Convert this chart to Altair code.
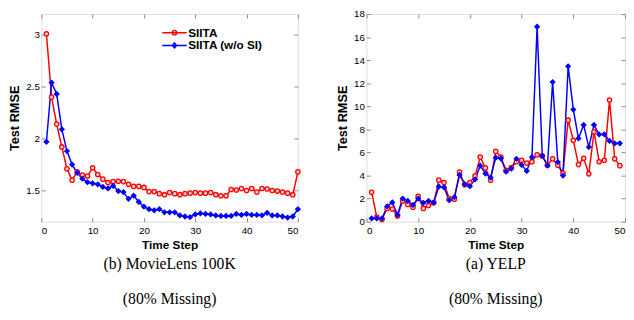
import altair as alt
import pandas as pd

series_names = ["SIITA", "SIITA (w/o SI)"]
series_colors = ["#ff0000", "#0000ff"]

ml_steps = list(range(1, 51))
ml_siita = [3.01, 2.40, 2.14, 1.92, 1.71, 1.60, 1.68, 1.65, 1.64, 1.72,
            1.655, 1.61, 1.577, 1.586, 1.59, 1.586, 1.56, 1.54, 1.54, 1.53,
            1.49, 1.49, 1.47, 1.46, 1.48, 1.47, 1.46, 1.47, 1.475, 1.48,
            1.475, 1.475, 1.48, 1.46, 1.45, 1.45, 1.51, 1.505, 1.52, 1.50,
            1.52, 1.485, 1.52, 1.515, 1.50, 1.495, 1.485, 1.475, 1.46, 1.68]
ml_nosi = [1.97, 2.54, 2.43, 2.09, 1.88, 1.75, 1.67, 1.614, 1.58, 1.57,
           1.56, 1.535, 1.52, 1.546, 1.495, 1.485, 1.42, 1.45, 1.39, 1.345,
           1.32, 1.31, 1.32, 1.29, 1.29, 1.29, 1.26, 1.25, 1.245, 1.27,
           1.28, 1.275, 1.27, 1.26, 1.255, 1.255, 1.255, 1.275, 1.265, 1.275,
           1.265, 1.265, 1.262, 1.285, 1.26, 1.26, 1.25, 1.24, 1.25, 1.32]

yelp_steps = list(range(1, 50))
yelp_siita = [2.55, 0.4, 0.2, 1.15, 1.1, 0.5, 1.8, 1.5, 1.25, 2.2,
              1.15, 1.4, 1.65, 3.6, 3.4, 2.0, 1.95, 4.3, 3.2, 3.4,
              3.97, 5.6, 4.67, 3.6, 6.1, 5.6, 4.45, 4.7, 5.2, 5.33,
              5.08, 5.2, 5.8, 5.7, 4.9, 5.45, 4.9, 4.2, 8.8, 7.05,
              4.95, 5.5, 4.15, 7.8, 5.2, 5.33, 10.55, 5.45, 4.86]
yelp_nosi = [0.28, 0.28, 0.28, 1.33, 1.67, 0.6, 2.0, 1.8, 1.45, 2.0,
             1.64, 1.8, 1.65, 3.05, 2.97, 1.86, 2.13, 4.05, 3.25, 3.08,
             3.67, 4.86, 4.17, 3.83, 5.55, 5.47, 4.33, 4.6, 5.45, 4.92,
             4.4, 5.6, 16.9, 5.7, 4.86, 12.1, 5.17, 4.0, 13.47, 9.72,
             7.22, 8.39, 6.47, 8.39, 7.56, 7.58, 7.0, 6.78, 6.8]

ml_ticks_y = [1.5, 2, 2.5, 3]
yelp_ticks_y = list(range(0, 19, 2))
x_ticks = [0, 10, 20, 30, 40, 50]


def frame(steps, a, b):
    return pd.concat([
        pd.DataFrame({"step": steps, "rmse": a, "series": series_names[0]}),
        pd.DataFrame({"step": steps, "rmse": b, "series": series_names[1]}),
    ])


SANS = "Liberation Sans"
SERIF = "Liberation Serif"

red_path = "M-2.5,0H2.5M0.45,0A0.45,0.45,0,1,1,-0.45,0A0.45,0.45,0,1,1,0.45,0Z"
blue_path = "M-2.5,0H2.5M0,-0.5L0.45,0L0,0.5L-0.45,0Z"

TICK = 4


def panel(df, ydom, yticks, width, height, caption, legend):
    color_scale = alt.Scale(domain=series_names, range=series_colors)
    if legend:
        leg = alt.Legend(
            title=None, orient="none", legendX=130, legendY=13, padding=0,
            symbolType={"expr": "datum.value == 'SIITA' ? '%s' : '%s'" % (red_path, blue_path)},
            symbolSize=100, symbolStrokeWidth=1.5, labelOffset=8,
            labelFont=SANS, labelFontWeight="bold", labelFontSize=12,
            labelColor="black", rowPadding=1, labelLimit=200,
        )
    else:
        leg = None
    x = alt.X("step:Q", scale=alt.Scale(domain=[0, 50], nice=False),
              axis=alt.Axis(values=x_ticks, title="Time Step", grid=False, domain=False,
                            offset=-TICK, tickSize=TICK, labelPadding=4, titlePadding=4,
                            titleFontSize=12))
    y = alt.Y("rmse:Q", scale=alt.Scale(domain=ydom, nice=False, zero=False),
              axis=alt.Axis(values=yticks, title="Test RMSE", grid=False, domain=False,
                            offset=-TICK, tickSize=TICK, labelPadding=2, titlePadding=4,
                            format="~g", labelOverlap=False, titleFontSize=13))
    line = alt.Chart(df).mark_line(strokeWidth=1.5).encode(
        x=x, y=y,
        color=alt.Color("series:N", scale=color_scale, legend=leg),
    )
    red_pts = alt.Chart(df).transform_filter(
        alt.datum.series == series_names[0]
    ).mark_point(shape="circle", size=20, stroke=series_colors[0], fill="#ffd0d0",
                 filled=False, strokeWidth=1.3, fillOpacity=1, opacity=1).encode(
        x=alt.X("step:Q", axis=None), y=alt.Y("rmse:Q", axis=None))
    blue_pts = alt.Chart(df).transform_filter(
        alt.datum.series == series_names[1]
    ).mark_point(shape="diamond", size=22, stroke=series_colors[1], fill=series_colors[1],
                 strokeWidth=1.2, fillOpacity=1, opacity=1).encode(
        x=alt.X("step:Q", axis=None), y=alt.Y("rmse:Q", axis=None))
    mirror = alt.Chart(df).mark_point(opacity=0).encode(
        x=alt.X("step:Q", axis=alt.Axis(orient="top", values=x_ticks, labels=False, title=None,
                                        grid=False, domain=False, offset=-TICK, tickSize=TICK,
                                        minExtent=0, maxExtent=0)),
        y=alt.Y("rmse:Q", axis=alt.Axis(orient="right", values=yticks, labels=False, title=None,
                                        grid=False, domain=False, offset=-TICK, tickSize=TICK,
                                        minExtent=0, maxExtent=0)),
    )
    return alt.layer(line, red_pts, blue_pts, mirror).resolve_axis(
        x="independent", y="independent").properties(
        width=width, height=height,
        title=alt.TitleParams(text=caption, orient="bottom", anchor="middle",
                              font=SERIF, fontSize=16, fontWeight="normal",
                              lineHeight=36, offset=6, color="black"),
    )


left = panel(frame(ml_steps, ml_siita, ml_nosi), [1.2, 3.2], ml_ticks_y, 262, 212,
             ["(b) MovieLens 100K", "(80% Missing)"], True)
right = panel(frame(yelp_steps, yelp_siita, yelp_nosi), [0, 18], yelp_ticks_y, 264, 212,
              ["(a) YELP", "(80% Missing)"], False)

chart = alt.hconcat(left, right, spacing=33).properties(
    padding={"top": -3, "left": 0, "right": 0, "bottom": 0}
).configure_view(
    stroke="black", strokeWidth=1
).configure_axis(
    labelFont=SANS, labelFontWeight="bold", labelFontSize=12, labelColor="black",
    titleFont=SANS, titleFontWeight="bold", titleColor="black",
    domainColor="black", tickColor="black",
).configure(background="white")

chart.save("out.html", embed_options={"renderer": "svg", "actions": False})
